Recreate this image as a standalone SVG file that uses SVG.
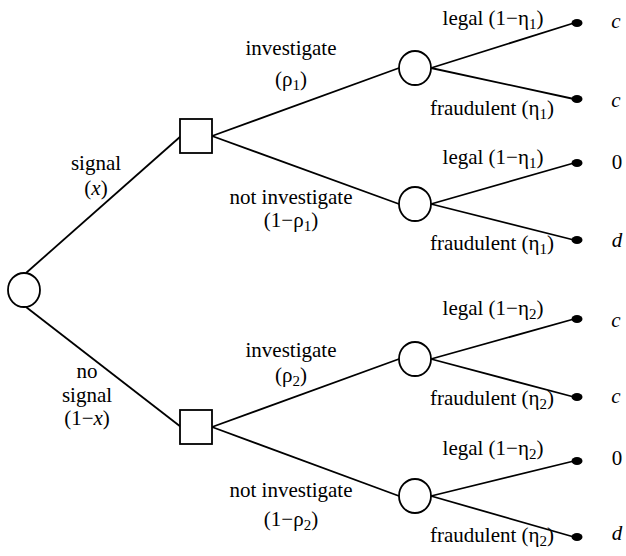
<svg xmlns="http://www.w3.org/2000/svg" width="626" height="556" viewBox="0 0 626 556">
<style>
.ln{stroke:#000;stroke-width:1.8;fill:none}
.nd{stroke:#000;stroke-width:1.8;fill:#fff}
.dot{fill:#000}
text{font-family:"Liberation Serif","Times New Roman",serif;font-size:21px;fill:#000}
.m{text-anchor:middle}
.it{font-style:italic}
.sub{font-size:15px}
</style>
<rect width="626" height="556" fill="#fff"/>
<g id="connectors">
<line class="ln" x1="26" y1="273" x2="181" y2="136"/>
<line class="ln" x1="26" y1="307" x2="181" y2="427"/>
<line class="ln" x1="212" y1="136" x2="399" y2="68"/>
<line class="ln" x1="212" y1="136" x2="399" y2="204"/>
<line class="ln" x1="212" y1="427" x2="399" y2="359"/>
<line class="ln" x1="212" y1="427" x2="399" y2="496"/>
<line class="ln" x1="431" y1="68" x2="574" y2="23"/>
<line class="ln" x1="431" y1="68" x2="574" y2="99"/>
<line class="ln" x1="431" y1="204" x2="574" y2="163"/>
<line class="ln" x1="431" y1="204" x2="574" y2="240"/>
<line class="ln" x1="431" y1="359" x2="574" y2="319"/>
<line class="ln" x1="431" y1="359" x2="574" y2="397"/>
<line class="ln" x1="431" y1="496" x2="574" y2="461"/>
<line class="ln" x1="431" y1="496" x2="574" y2="537"/>
</g>
<g id="root"><ellipse class="nd" cx="24" cy="290" rx="16" ry="17"/></g>
<g id="dec1"><rect class="nd" x="180" y="119" width="32" height="34"/></g>
<g id="dec2"><rect class="nd" x="180" y="410" width="32" height="34"/></g>
<g id="ch1"><ellipse class="nd" cx="415" cy="68" rx="16" ry="17"/></g>
<g id="ch2"><ellipse class="nd" cx="415" cy="204" rx="16" ry="17"/></g>
<g id="ch3"><ellipse class="nd" cx="415" cy="359" rx="16" ry="17"/></g>
<g id="ch4"><ellipse class="nd" cx="415" cy="496" rx="16" ry="17"/></g>
<g id="leaf1"><ellipse class="dot" cx="577" cy="23" rx="5.5" ry="4"/><text x="616" y="28" class="m it">c</text></g>
<g id="leaf2"><ellipse class="dot" cx="577" cy="99" rx="5.5" ry="4"/><text x="616" y="107" class="m it">c</text></g>
<g id="leaf3"><ellipse class="dot" cx="577" cy="163" rx="5.5" ry="4"/><text x="617" y="169" class="m">0</text></g>
<g id="leaf4"><ellipse class="dot" cx="577" cy="240" rx="5.5" ry="4"/><text x="617" y="247" class="m it">d</text></g>
<g id="leaf5"><ellipse class="dot" cx="577" cy="319" rx="5.5" ry="4"/><text x="616" y="327" class="m it">c</text></g>
<g id="leaf6"><ellipse class="dot" cx="577" cy="397" rx="5.5" ry="4"/><text x="616" y="403" class="m it">c</text></g>
<g id="leaf7"><ellipse class="dot" cx="577" cy="461" rx="5.5" ry="4"/><text x="617" y="465" class="m">0</text></g>
<g id="leaf8"><ellipse class="dot" cx="577" cy="537" rx="5.5" ry="4"/><text x="617" y="540" class="m it">d</text></g>
<g id="labels">
<text x="96" y="170" class="m">signal</text>
<text x="96" y="195" class="m">(<tspan class="it">x</tspan>)</text>
<text x="87" y="378" class="m">no</text>
<text x="87" y="402" class="m">signal</text>
<text x="87" y="425" class="m">(1−<tspan class="it">x</tspan>)</text>
<text x="291" y="55" class="m">investigate</text>
<text x="291" y="86" class="m">(ρ<tspan class="sub" dy="4">1</tspan><tspan dy="-4">)</tspan></text>
<text x="291" y="204" class="m">not investigate</text>
<text x="291" y="227" class="m">(1−ρ<tspan class="sub" dy="4">1</tspan><tspan dy="-4">)</tspan></text>
<text x="291" y="357" class="m">investigate</text>
<text x="291" y="382" class="m">(ρ<tspan class="sub" dy="4">2</tspan><tspan dy="-4">)</tspan></text>
<text x="291" y="497" class="m">not investigate</text>
<text x="291" y="526" class="m">(1−ρ<tspan class="sub" dy="4">2</tspan><tspan dy="-4">)</tspan></text>
<text x="493" y="25" class="m">legal (1−η<tspan class="sub" dy="4">1</tspan><tspan dy="-4">)</tspan></text>
<text x="492" y="115" class="m">fraudulent (η<tspan class="sub" dy="4">1</tspan><tspan dy="-4">)</tspan></text>
<text x="493" y="164" class="m">legal (1−η<tspan class="sub" dy="4">1</tspan><tspan dy="-4">)</tspan></text>
<text x="492" y="250" class="m">fraudulent (η<tspan class="sub" dy="4">1</tspan><tspan dy="-4">)</tspan></text>
<text x="493" y="315" class="m">legal (1−η<tspan class="sub" dy="4">2</tspan><tspan dy="-4">)</tspan></text>
<text x="492" y="405" class="m">fraudulent (η<tspan class="sub" dy="4">2</tspan><tspan dy="-4">)</tspan></text>
<text x="493" y="455" class="m">legal (1−η<tspan class="sub" dy="4">2</tspan><tspan dy="-4">)</tspan></text>
<text x="492" y="542" class="m">fraudulent (η<tspan class="sub" dy="4">2</tspan><tspan dy="-4">)</tspan></text>
</g>
</svg>
